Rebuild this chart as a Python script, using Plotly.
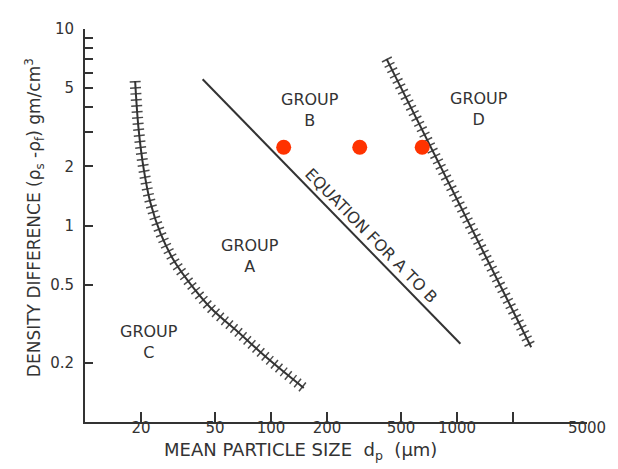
import numpy as np
import plotly.graph_objects as go

# ---- data (Geldart classification diagram) ----
ca_size = [18.6, 19.4, 20.7, 22.5, 25.5, 30.1, 37.1, 47.6, 66.5, 96.8, 150]
ca_density = [5.44, 3.12, 1.93, 1.30, 0.909, 0.661, 0.50, 0.379, 0.287, 0.209, 0.149]

ab_size = [42.9, 1043]
ab_density = [5.55, 0.250]

bd_size = [418, 2506]
bd_density = [7.05, 0.240]

dot_size = [117, 300, 650]
dot_density = [2.5, 2.5, 2.5]

group_labels = ["GROUP<br>A", "GROUP<br>B", "GROUP<br>C", "GROUP<br>D"]
group_size = [76.9, 163, 22.0, 1312]
group_density = [0.70, 3.85, 0.256, 3.92]

eq_label = "EQUATION FOR A TO B"
eq_size = 345
eq_density = 0.89

x_tickvals = [20, 50, 100, 200, 500, 1000, 2000, 5000]
x_ticktext = ["20", "50", "100", "200", "500", "1000", "", "5000"]
y_tickvals = [0.2, 0.5, 1, 2, 3, 4, 5, 6, 7, 8, 9, 10]
y_ticktext = ["0.2", "0.5", "1", "2", "", "", "5", "", "", "", "", "10"]

INK = "#333333"
FONT = "DejaVu Sans"

fig = go.Figure()

def hatched(xs, ys, shape="linear"):
    # hatch marks: a wide line drawn with a very short dash pattern
    fig.add_trace(go.Scatter(x=xs, y=ys, mode="lines", hoverinfo="skip",
                             line=dict(color="#4a4a4a", width=11, dash="1.5px,4.5px", shape=shape,
                                       smoothing=1.0)))
    fig.add_trace(go.Scatter(x=xs, y=ys, mode="lines", hoverinfo="skip",
                             line=dict(color=INK, width=2, shape=shape, smoothing=1.0)))

hatched(ca_size, ca_density, shape="spline")
hatched(bd_size, bd_density)

fig.add_trace(go.Scatter(x=ab_size, y=ab_density, mode="lines", hoverinfo="skip",
                         line=dict(color=INK, width=2)))

fig.add_trace(go.Scatter(x=dot_size, y=dot_density, mode="markers",
                         marker=dict(color="#ff3300", size=15, line=dict(width=0))))

for lab, xs, ys in zip(group_labels, group_size, group_density):
    fig.add_annotation(x=np.log10(xs), y=np.log10(ys), text=lab, showarrow=False,
                       font=dict(family=FONT, size=16, color=INK), align="center")

fig.add_annotation(x=np.log10(eq_size), y=np.log10(eq_density), text=eq_label, showarrow=False,
                   textangle=45.6, font=dict(family=FONT, size=16, color=INK))

fig.add_annotation(xref="paper", yref="paper", x=0.4286, y=-0.075, xanchor="center",
                   yanchor="middle",
                   text="MEAN PARTICLE SIZE  d<sub>p</sub>  (µm)", showarrow=False,
                   font=dict(family=FONT, size=18, color=INK))
fig.add_annotation(xref="paper", yref="paper", x=-0.1006, y=0.52, textangle=-90,
                   xanchor="center", yanchor="middle",
                   text="DENSITY DIFFERENCE (ρ<sub>s</sub> -ρ<sub>f</sub>) gm/cm<sup>3</sup>",
                   showarrow=False, font=dict(family=FONT, size=17, color=INK))

fig.update_xaxes(type="log", range=[1, np.log10(5000)], showgrid=False, zeroline=False,
                 showline=True, linecolor=INK, linewidth=2, ticks="inside", ticklen=10,
                 tickwidth=2, tickcolor=INK, tickvals=x_tickvals, ticktext=x_ticktext,
                 tickfont=dict(family=FONT, size=15, color=INK), ticklabelstandoff=-9)
fig.update_yaxes(type="log", range=[-1, 1], showgrid=False, zeroline=False,
                 showline=True, linecolor=INK, linewidth=2, ticks="inside", ticklen=8,
                 tickwidth=2, tickcolor=INK, tickvals=y_tickvals, ticktext=y_ticktext,
                 tickfont=dict(family=FONT, size=15, color=INK), ticklabelstandoff=6)

# the page body adds an 8px margin, so the figure is 8px smaller to fit the window
fig.update_layout(width=610, height=461, showlegend=False,
                  margin=dict(l=77, r=28, t=21, b=47),
                  paper_bgcolor="white", plot_bgcolor="white")

fig.write_html("out.html")
